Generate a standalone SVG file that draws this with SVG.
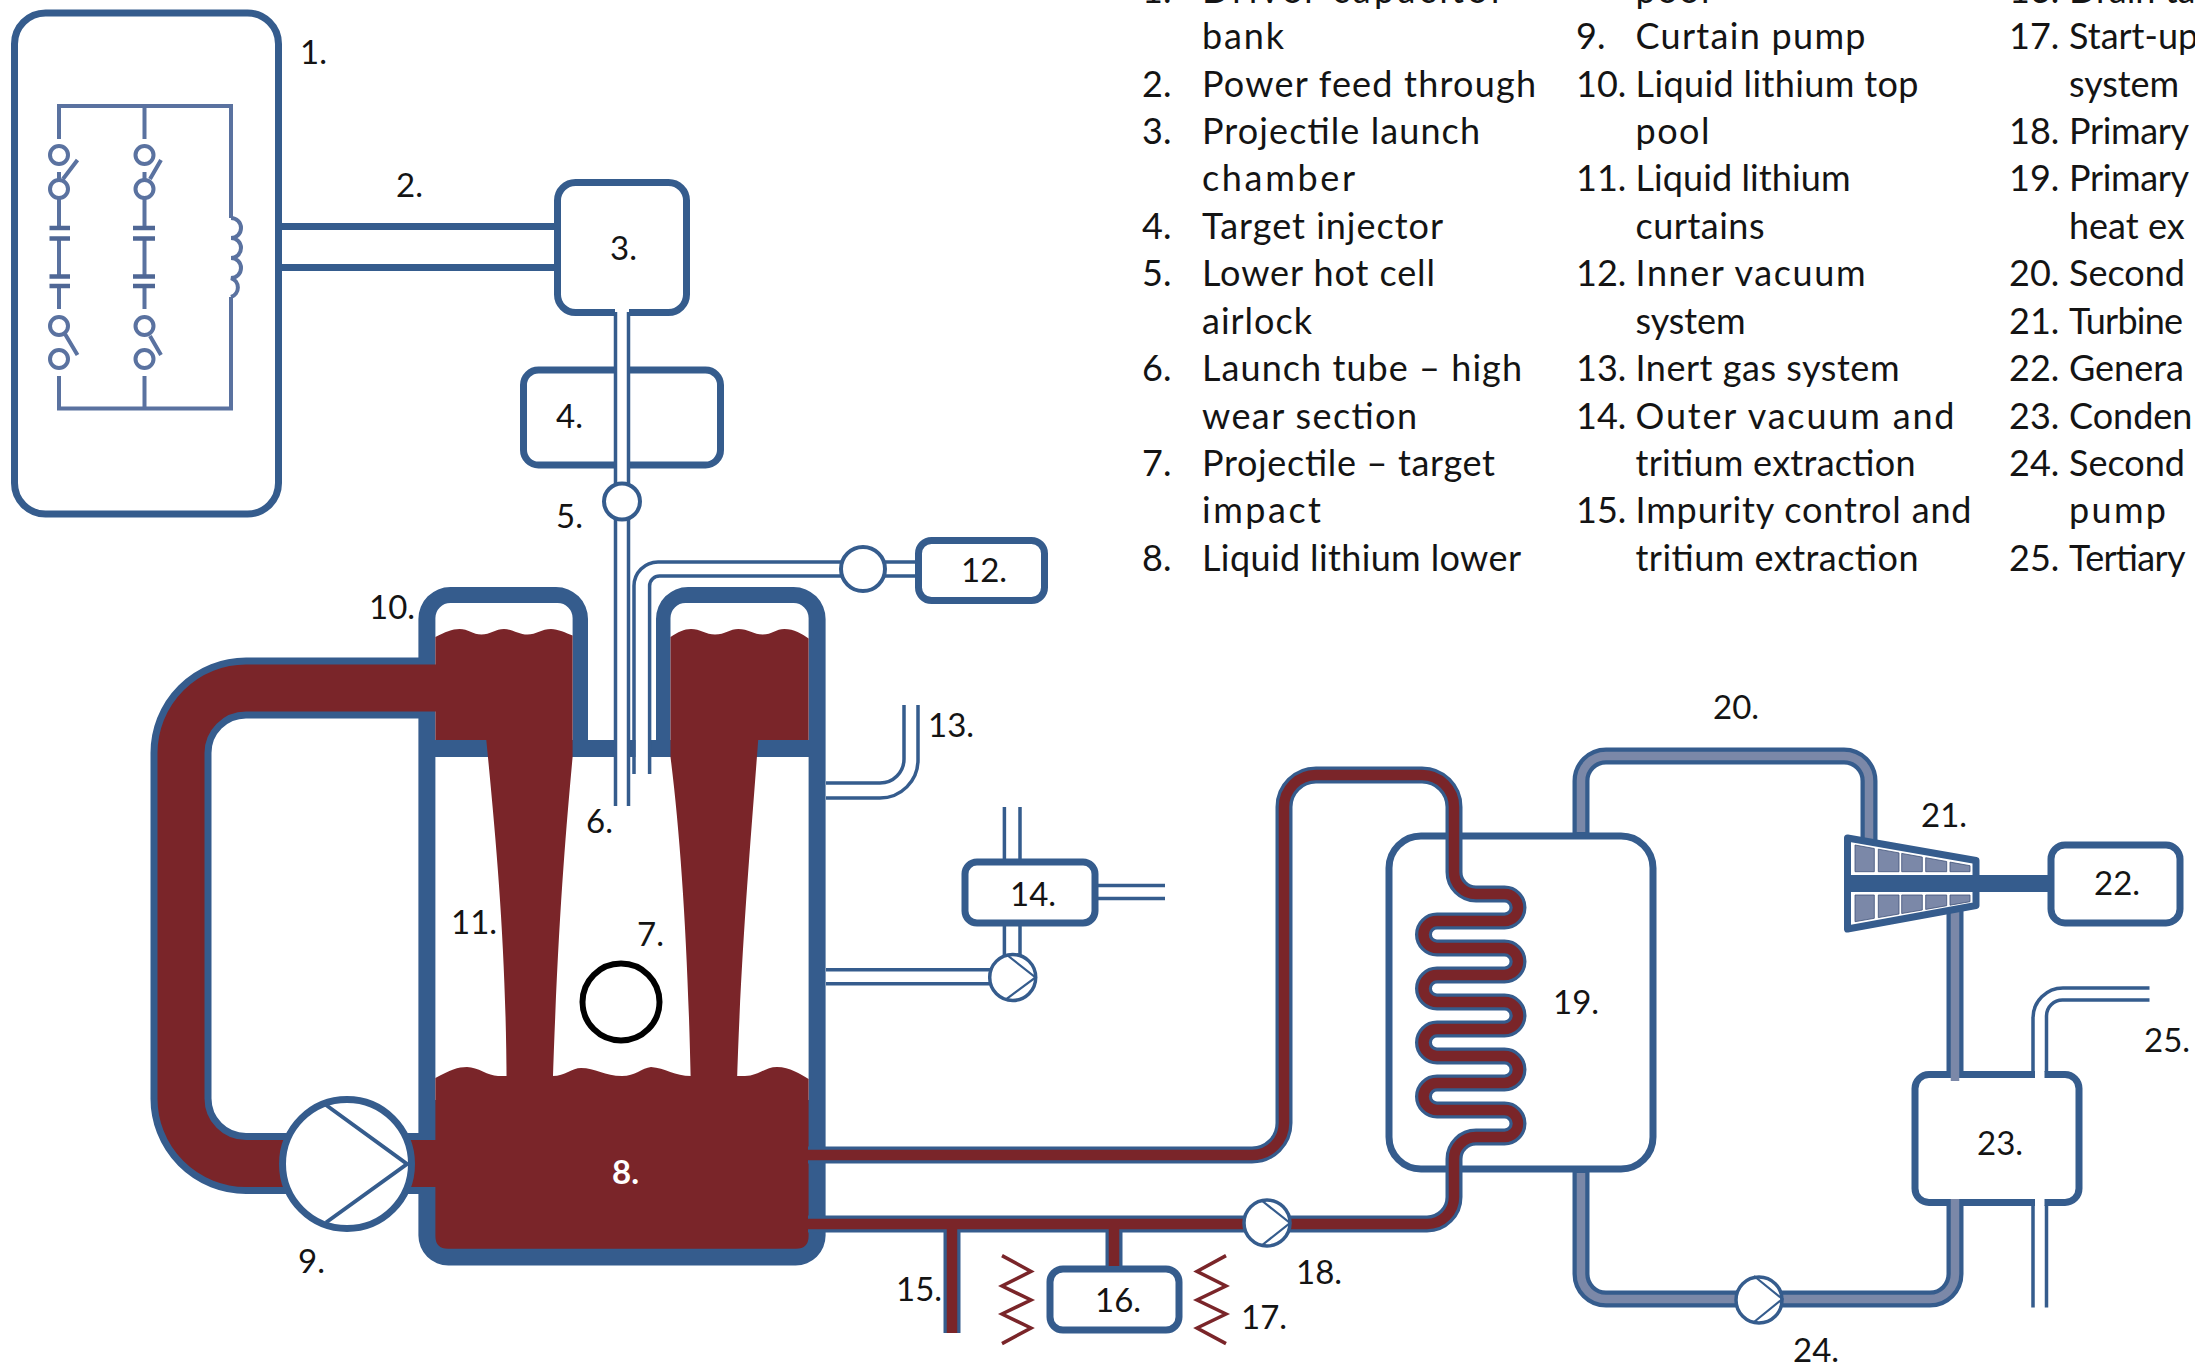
<svg xmlns="http://www.w3.org/2000/svg" width="2195" height="1366" viewBox="0 0 2195 1366">
<style>
text{font-family:"Lato","Open Sans","Liberation Sans",sans-serif;fill:#141414}
.l{font-size:36px}
.n{font-size:33px}
.box{fill:#fff;stroke:#355c8d;stroke-width:7}
.wire{fill:none;stroke:#5a72a0;stroke-width:4}
.sw{fill:#fff;stroke:#5a72a0;stroke-width:4}
.plate{stroke:#4f6795;stroke-width:4.5}
.line{fill:none;stroke:#355c8d;stroke-width:3.5}
.thin{fill:none;stroke:#355c8d;stroke-width:2.2}
.pump{fill:#fff;stroke:#355c8d;stroke-width:3.5}
.pb{fill:none;stroke:#355c8d;stroke-width:17}
.pc{fill:none;stroke:#7a2529;stroke-width:10.5}
.ps{fill:none;stroke:#7b88a8;stroke-width:8.5}
.cell{fill:#7b88a8;stroke:#3f5278;stroke-width:.8}
.zig{fill:none;stroke:#7a2529;stroke-width:3.5}
.wh{fill:none;stroke:#fff}
.li{fill:#7a2529}
</style>
<g id="node-1">
<rect class="box" x="14.500" y="13" width="264" height="501" rx="31"/>
<path class="wire" d="M231 218V106H59V139M144.500 106V139M59 172V228M144.500 172V228M59 238V276M144.500 238V276M59 286V309M144.500 286V309M59 376V408.500H231V297M144.500 376V408.500"/>
<g class="sw">
<circle cx="59" cy="155" r="9"/><circle cx="59" cy="189" r="9"/><circle cx="59" cy="326" r="9"/><circle cx="59" cy="359" r="9"/>
<circle cx="144.500" cy="155" r="9"/><circle cx="144.500" cy="189" r="9"/><circle cx="144.500" cy="326" r="9"/><circle cx="144.500" cy="359" r="9"/>
</g>
<path class="wire" d="M63 179L77.500 160M65 334L77.500 355M150 179L161 160M150 336L161 355"/>
<path class="plate" d="M49.500 228H70M49.500 238.500H70M49.500 276.500H70M49.500 286H70M133 228H155M133 238.500H155M133 276.500H155M133 286H155"/>
<path class="wire" d="M231 218a10 10 0 0 1 0 20a10 10 0 0 1 0 20a10 10 0 0 1 0 20a10 10 0 0 1 0 19"/>
<text class="n" x="300" y="64">1.</text>
</g>
<g id="node-3"><rect class="box" x="557.500" y="182.500" width="129" height="130" rx="18"/><text class="n" x="610" y="260">3.</text></g>
<g id="node-4"><rect class="box" x="523.500" y="370" width="197" height="95" rx="15"/><text class="n" x="556" y="428">4.</text></g>
<g id="node-12"><rect class="box" x="918.500" y="540.500" width="126" height="60" rx="13"/><text class="n" x="961" y="582">12.</text></g>
<g id="node-14"><rect class="box" x="965" y="862" width="130" height="61" rx="12"/><text class="n" x="1010" y="906">14.</text></g>
<g id="node-16"><rect class="box" x="1050" y="1269" width="129" height="61" rx="13"/><text class="n" x="1095" y="1312">16.</text></g>
<g id="node-19"><rect class="box" x="1389" y="836" width="264" height="333" rx="32"/><text class="n" x="1553" y="1014">19.</text></g>
<g id="node-22"><rect class="box" x="2051" y="845" width="129" height="78" rx="14"/><text class="n" x="2094" y="895">22.</text></g>
<g id="node-23"><rect class="box" x="1915" y="1074.500" width="164" height="128" rx="14"/><text class="n" x="1977" y="1155">23.</text></g>

<g id="vessel">
<path fill="#355c8d" d="M418.400 619A32 32 0 0 1 450.400 587H556A32 32 0 0 1 588 619V740H656V619A32 32 0 0 1 688 587H793.600A32 32 0 0 1 825.600 619V1235.600A30 30 0 0 1 795.600 1265.600H448.400A30 30 0 0 1 418.400 1235.600Z"/>
<path fill="#fff" d="M435.400 740V618A15 15 0 0 1 450.400 603H557.600A15 15 0 0 1 572.600 618V740ZM670.500 740V618A15 15 0 0 1 685.500 603H793.600A15 15 0 0 1 808.600 618V740ZM435.400 757H808.600V1100H435.400Z"/>
<path class="li" d="M435.400 637C445 632 452 629 459.600 629C468 629 473 634.500 481.400 634.500C490 634.500 496 629 504 629C512 629 519 634.500 527.500 634.500C536 634.500 542 629 551 629C558 629 566 633 572.600 635.500V757C566 830 558 920 552.700 1085L506.600 1085C506 950 497 850 486.300 740H435.400Z"/>
<path class="li" d="M670.500 637C678 632 684 629 691 629C700 629 706 634.500 715 634.500C725 634.500 730 629 738.300 629C748 629 754 634.500 762.600 634.500C772 634.500 776 629 784.400 629C794 629 802 634 808.600 638.500V740H758.200C750 850 741 950 736.900 1085H690.800C688 950 681 840 670.500 757Z"/>
<path class="li" d="M435.400 1078C450 1070 458 1067 467 1067C478 1067 488 1076 498 1076H552.700C565 1076 572 1068 581 1068C595 1068 605 1076 622 1076C635 1076 642 1068 651 1067C665 1068 675 1076 691 1076H745C758 1076 765 1067 777 1067C790 1067 800 1074 808.600 1079V1236Q808.600 1248.700 796 1248.700H448Q435.400 1248.700 435.400 1236Z"/>
<text x="612" y="1184" style="fill:#fff;font-size:33px;font-weight:700">8.</text>
</g>

<g id="connectors">
<path d="M282 226.500H556M282 267.500H556" fill="none" stroke="#355c8d" stroke-width="7"/>
<rect x="615" y="305" width="14" height="501" fill="#fff"/>
<path class="line" d="M615.500 312V806M628.500 312V806"/>
<path class="wh" stroke-width="13" d="M642 774V586A17 17 0 0 1 659 569H842"/>
<path class="line" d="M634 774V586A24 24 0 0 1 658 562H842M649.600 774V586A10 10 0 0 1 660 576H842M885 562H918M885 576H918"/>
<path class="line" d="M826 798H880A38 38 0 0 0 918 760V705M826 783H880A24 24 0 0 0 904 759V705"/>
<path class="line" d="M1004.400 807V860M1020 807V860M1097 885.600H1165M1097 898.400H1165M1004.400 926V955M1020 926V955M826 969.800H992M826 983.800H992"/>
<path d="M420 688H246A65 65 0 0 0 181 753V1098A65 65 0 0 0 246 1163.500H420" fill="none" stroke="#355c8d" stroke-width="61"/>
<path d="M437 688H246A65 65 0 0 0 181 753V1098A65 65 0 0 0 246 1163.500H437" fill="none" stroke="#7a2529" stroke-width="47"/>
<path id="c-hot" class="pb" d="M808 1155H1252A32 32 0 0 0 1284 1123V807A32 32 0 0 1 1316 775H1422A32 32 0 0 1 1454 807V872A22 22 0 0 0 1476 894H1504.500A13.500 13.500 0 0 1 1504.500 921H1437A13.500 13.500 0 0 0 1437 948H1504.500A13.500 13.500 0 0 1 1504.500 975H1437A13.500 13.500 0 0 0 1437 1002H1504.500A13.500 13.500 0 0 1 1504.500 1029H1437A13.500 13.500 0 0 0 1437 1056H1504.500A13.500 13.500 0 0 1 1504.500 1083H1437A13.500 13.500 0 0 0 1437 1110H1504.500A13.500 13.500 0 0 1 1504.500 1137H1476A22 22 0 0 0 1454 1159V1197A27 27 0 0 1 1427 1224H808M952 1224V1333M1114 1224V1266"/>
<path class="pc" d="M806 1155H1252A32 32 0 0 0 1284 1123V807A32 32 0 0 1 1316 775H1422A32 32 0 0 1 1454 807V872A22 22 0 0 0 1476 894H1504.500A13.500 13.500 0 0 1 1504.500 921H1437A13.500 13.500 0 0 0 1437 948H1504.500A13.500 13.500 0 0 1 1504.500 975H1437A13.500 13.500 0 0 0 1437 1002H1504.500A13.500 13.500 0 0 1 1504.500 1029H1437A13.500 13.500 0 0 0 1437 1056H1504.500A13.500 13.500 0 0 1 1504.500 1083H1437A13.500 13.500 0 0 0 1437 1110H1504.500A13.500 13.500 0 0 1 1504.500 1137H1476A22 22 0 0 0 1454 1159V1197A27 27 0 0 1 1427 1224H806M952 1224V1333M1114 1224V1266"/>
<path class="pb" d="M1581 836V781A25 25 0 0 1 1606 756H1844A25 25 0 0 1 1869 781V845M1581 1169V1274A25 25 0 0 0 1606 1299H1930A25 25 0 0 0 1955 1274V1203M1955 905V1077"/>
<path class="ps" d="M1581 832V781A25 25 0 0 1 1606 756H1844A25 25 0 0 1 1869 781V845M1581 1173V1274A25 25 0 0 0 1606 1299H1930A25 25 0 0 0 1955 1274V1199M1955 905V1081"/>
<rect x="2035" y="1070" width="9.500" height="8" fill="#fff"/><rect x="2035" y="1199" width="9.500" height="8" fill="#fff"/>
<path class="line" d="M2033 1072V1018A30 30 0 0 1 2063 988H2149.500M2046.500 1072V1016A16 16 0 0 1 2063 1000H2149.500M2033 1205V1307.500M2046.500 1205V1307.500"/>
<path d="M1975 883.500H2050" fill="none" stroke="#355c8d" stroke-width="17"/>
<text class="n" x="396" y="197">2.</text>
<text class="n" x="928" y="737">13.</text>
<text class="n" x="896" y="1301">15.</text>
<text class="n" x="1713" y="719">20.</text>
<text class="n" x="2144" y="1052">25.</text>
</g>

<g id="node-5"><circle cx="622" cy="501.500" r="18" fill="#fff" stroke="#355c8d" stroke-width="4"/><text class="n" x="556" y="528">5.</text></g>
<g id="node-6"><text class="n" x="586" y="833">6.</text></g>
<g id="node-7"><circle cx="621" cy="1002" r="38.500" fill="#fff" stroke="#000" stroke-width="6"/><text class="n" x="637" y="946">7.</text></g>
<g id="node-9"><circle cx="347" cy="1164" r="64.500" fill="#fff" stroke="#355c8d" stroke-width="7"/><path d="M326 1105L407 1164L326 1222.500" fill="none" stroke="#355c8d" stroke-width="4"/><text class="n" x="298" y="1273">9.</text></g>
<g id="node-10"><text class="n" x="369" y="619">10.</text></g>
<g id="node-11"><text class="n" x="451" y="934">11.</text></g>
<g id="node-12p"><circle cx="863" cy="569" r="22" fill="#fff" stroke="#355c8d" stroke-width="4"/></g>
<g id="node-14p"><circle cx="1012.700" cy="977.400" r="23" class="pump"/><path class="thin" d="M1007 955L1035.500 977.400L1007 998.600"/></g>
<g id="node-17"><path class="zig" d="M1002 1255.600L1031 1271.400L1002 1286L1031 1300L1002 1314L1031 1328L1002 1343.600"/><path class="zig" d="M1226 1255.600L1197 1271.400L1226 1286L1197 1300L1226 1314L1197 1328L1226 1343.600"/><text class="n" x="1241" y="1329">17.</text></g>
<g id="node-18"><circle cx="1267" cy="1223" r="23" class="pump"/><path class="thin" d="M1261 1200L1290 1223L1261 1246"/><text class="n" x="1296" y="1284">18.</text></g>
<g id="node-21">
<path d="M1847.500 838L1976 860.500V905.500L1847.500 929Z" fill="#fff" stroke="#355c8d" stroke-width="7" stroke-linejoin="round"/>
<rect x="1848" y="875" width="132" height="17" fill="#355c8d"/>
<g class="cell">
<path d="M1855 845L1874.300 848.500V871.700H1855Z"/><path d="M1878.300 849.200L1899 852.900V871.700H1878.300Z"/><path d="M1901.700 853.400L1922.300 857.100V871.700H1901.700Z"/><path d="M1925.700 857.700L1946.700 861.500V871.700H1925.700Z"/><path d="M1950 862.100L1970 865.700V871.700H1950Z"/>
<path d="M1855 895H1874.300V918.300L1855 921.700Z"/><path d="M1878.300 895H1899V914L1878.300 917.600Z"/><path d="M1901.700 895H1922.300V910L1901.700 913.500Z"/><path d="M1925.700 895H1946.700V905.700L1925.700 909.400Z"/><path d="M1950 895H1970V901.700L1950 905.200Z"/>
</g>
<text class="n" x="1921" y="827">21.</text>
</g>
<g id="node-24"><circle cx="1759" cy="1300" r="23" class="pump"/><path class="thin" d="M1754 1276L1782.400 1299L1754 1322"/><text class="n" x="1793" y="1362">24.</text></g>

<g id="legend" class="l">
<text x="1142" y="3">1.</text><text x="1202" y="3" textLength="302">Driver capacitor</text>
<text x="1202" y="49" textLength="82">bank</text>
<text x="1142" y="97">2.</text><text x="1202" y="97" textLength="334">Power feed through</text>
<text x="1142" y="144">3.</text><text x="1202" y="144" textLength="278">Projectile launch</text>
<text x="1202" y="191" textLength="153">chamber</text>
<text x="1142" y="239">4.</text><text x="1202" y="239" textLength="241">Target injector</text>
<text x="1142" y="286">5.</text><text x="1202" y="286" textLength="233">Lower hot cell</text>
<text x="1202" y="334" textLength="110">airlock</text>
<text x="1142" y="381">6.</text><text x="1202" y="381" textLength="320">Launch tube – high</text>
<text x="1202" y="429" textLength="215">wear section</text>
<text x="1142" y="476">7.</text><text x="1202" y="476" textLength="293">Projectile – target</text>
<text x="1202" y="523" textLength="119">impact</text>
<text x="1142" y="571">8.</text><text x="1202" y="571" textLength="319">Liquid lithium lower</text>
<text x="1635.500" y="3" textLength="74">pool</text>
<text x="1576" y="49">9.</text><text x="1635.500" y="49" textLength="230">Curtain pump</text>
<text x="1576" y="97">10.</text><text x="1635.500" y="97" textLength="283">Liquid lithium top</text>
<text x="1635.500" y="144" textLength="74">pool</text>
<text x="1576" y="191">11.</text><text x="1635.500" y="191" textLength="215">Liquid lithium</text>
<text x="1635.500" y="239" textLength="129">curtains</text>
<text x="1576" y="286">12.</text><text x="1635.500" y="286" textLength="230">Inner vacuum</text>
<text x="1635.500" y="334" textLength="110">system</text>
<text x="1576" y="381">13.</text><text x="1635.500" y="381" textLength="264">Inert gas system</text>
<text x="1576" y="429">14.</text><text x="1635.500" y="429" textLength="319">Outer vacuum and</text>
<text x="1635.500" y="476" textLength="280">tritium extraction</text>
<text x="1576" y="523">15.</text><text x="1635.500" y="523" textLength="336">Impurity control and</text>
<text x="1635.500" y="571" textLength="283">tritium extraction</text>
<text x="2009" y="3">16.</text><text x="2069" y="3">Drain ta</text>
<text x="2009" y="49">17.</text><text x="2069" y="49">Start-up</text>
<text x="2069" y="97" textLength="110">system</text>
<text x="2009" y="144">18.</text><text x="2069" y="144" textLength="120">Primary</text>
<text x="2009" y="191">19.</text><text x="2069" y="191" textLength="120">Primary</text>
<text x="2069" y="239">heat ex</text>
<text x="2009" y="286">20.</text><text x="2069" y="286">Second</text>
<text x="2009" y="334">21.</text><text x="2069" y="334" textLength="114">Turbine</text>
<text x="2009" y="381">22.</text><text x="2069" y="381">Genera</text>
<text x="2009" y="429">23.</text><text x="2069" y="429">Conden</text>
<text x="2009" y="476">24.</text><text x="2069" y="476">Second</text>
<text x="2069" y="523" textLength="97">pump</text>
<text x="2009" y="571">25.</text><text x="2069" y="571" textLength="116.500">Tertiary</text>
</g>
</svg>
